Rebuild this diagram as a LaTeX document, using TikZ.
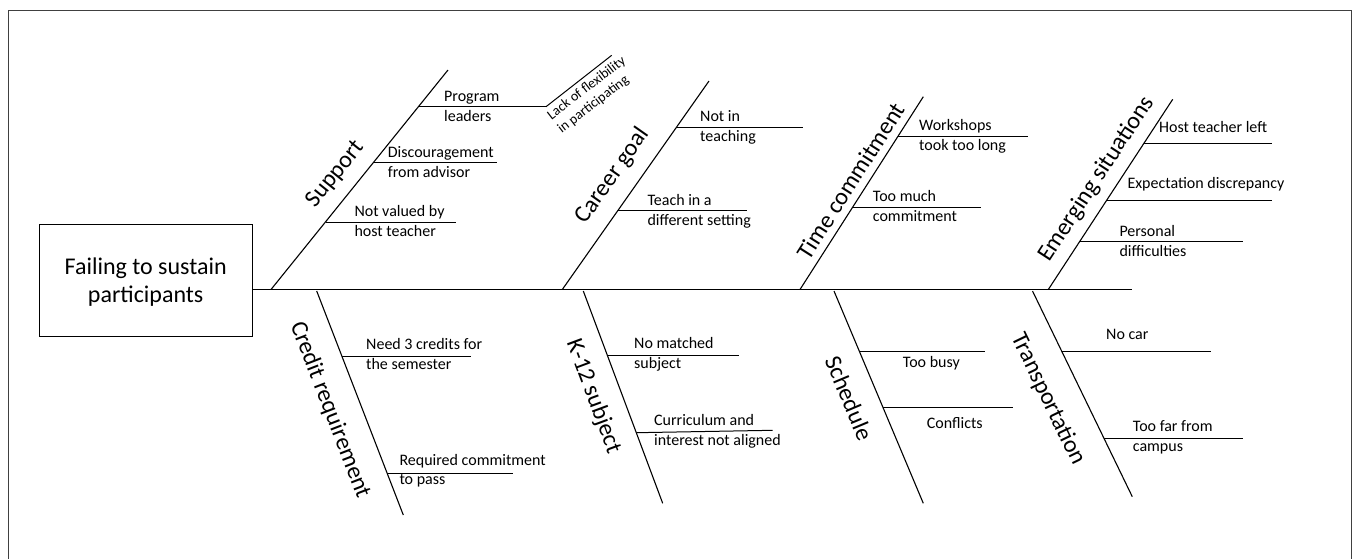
\documentclass[tikz,border=0pt]{standalone}
\usepackage{fontspec}
\setmainfont{Carlito}
\usetikzlibrary{calc}
% two stacked lines, anchored at the baseline of the first one
\newcommand{\pairlines}[3][20pt]{\vtop{\baselineskip=#1\hbox{#2}\hbox{#3}}}
% two centred lines, anchored at the baseline of the first one
\newcommand{\centerpair}[2]{\vtop{\baselineskip=28.5pt\halign{\hfil##\hfil\cr#1\cr#2\cr}}}
\tikzset{
  bone/.style={line width=1.1pt},
  twig/.style={line width=1pt},
  cause/.style={font=\fontsize{24}{29}\selectfont, inner sep=0pt},
  leaf/.style={font=\fontsize{16}{20}\selectfont, inner sep=0pt, anchor=base west},
  frame/.style={line width=1pt, draw=black!75},
}
\begin{document}
\begin{tikzpicture}[x=1pt,y=-1pt]
\useasboundingbox (0,0) rectangle (1353,558);
% outer frame
\coordinate (fa) at (8,570);
\coordinate (fb) at (8,10);
\coordinate (fc) at (1351.5,10);
\coordinate (fd) at (1351.5,570);
\draw[frame] (fa) -- (fb) -- (fc) -- (fd);

% head and spine
\node[draw, line width=1pt, minimum width=213.3pt, minimum height=112pt, inner sep=0pt]
      (head) at (145.7,280) {};
\node[font=\fontsize{24}{28.5}\selectfont, inner sep=0pt, anchor=base] (headtext)
      at (145.7,274) {\centerpair{Failing to sustain}{participants}};
\coordinate (tail) at (1131.7,289.5);
\draw[bone] (head.east |- tail) -- (tail);

% ---- Support
\coordinate (s0) at (271,289.5);
\coordinate (s1) at (448,70);
\draw[bone] (s0) -- (s1);
\node[cause, rotate=51.2] (lsup) at (335.8,174.2) {Support};
\coordinate (sa1) at (418.5,106.7); \coordinate (sa2) at (546,106.7);
\draw[twig] (sa1) -- (sa2);
\node[leaf] (tsa) at (444,101.2) {\pairlines{Program}{leaders}};
\coordinate (sa3) at (611.7,55.3);
\draw[twig] (sa2) -- (sa3);
\node[leaf, font=\fontsize{14}{17}\selectfont, rotate=37.6] (tsa3) at (551.4,120.2)
      {\pairlines[17pt]{Lack of flexibility}{in participating}};
\coordinate (sb1) at (373.4,162.7); \coordinate (sb2) at (496.7,162.7);
\draw[twig] (sb1) -- (sb2);
\node[leaf] (tsb) at (387.7,157.2) {\pairlines{Discouragement}{from advisor}};
\coordinate (sc1) at (325.5,222.3); \coordinate (sc2) at (455.7,222.3);
\draw[twig] (sc1) -- (sc2);
\node[leaf] (tsc) at (354.3,216.8) {\pairlines{Not valued by}{host teacher}};

% ---- Career goal
\coordinate (c0) at (562.3,289.5);
\coordinate (c1) at (709,81);
\draw[bone] (c0) -- (c1);
\node[cause, rotate=54.9] (lcar) at (612.5,175.8) {Career goal};
\coordinate (ca1) at (676.9,127); \coordinate (ca2) at (803.3,127);
\draw[twig] (ca1) -- (ca2);
\node[leaf] (tca) at (700,121.5) {\pairlines{Not in}{teaching}};
\coordinate (cb1) at (618.1,210.7); \coordinate (cb2) at (746.7,210.7);
\draw[twig] (cb1) -- (cb2);
\node[leaf] (tcb) at (647.3,205.2) {\pairlines{Teach in a}{different setting}};

% ---- Time commitment
\coordinate (t0) at (800,289.5);
\coordinate (t1) at (923.3,96.7);
\draw[bone] (t0) -- (t1);
\node[cause, rotate=57.5] (ltim) at (851,181) {Time commitment};
\coordinate (ta1) at (898.3,136); \coordinate (ta2) at (1028.3,136);
\draw[twig] (ta1) -- (ta2);
\node[leaf] (tta) at (919,130.5) {\pairlines{Workshops}{took too long}};
\coordinate (tb1) at (852.8,207.3); \coordinate (tb2) at (980.7,207.3);
\draw[twig] (tb1) -- (tb2);
\node[leaf] (ttb) at (872.7,201.8) {\pairlines{Too much}{commitment}};

% ---- Emerging situations
\coordinate (e0) at (1048.3,289.5);
\coordinate (e1) at (1172.7,99.3);
\draw[bone] (e0) -- (e1);
\node[cause, rotate=56.9] (lemg) at (1096.7,179.2) {Emerging situations};
\coordinate (ea1) at (1143.7,143.7); \coordinate (ea2) at (1271.7,143.7);
\draw[twig] (ea1) -- (ea2);
\node[leaf] (tea) at (1159,132.5) {Host teacher left};
\coordinate (eb1) at (1107,200); \coordinate (eb2) at (1271.7,200);
\draw[twig] (eb1) -- (eb2);
\node[leaf] (teb) at (1127.3,188.5) {Expectation discrepancy};
\coordinate (ec1) at (1079.8,241.7); \coordinate (ec2) at (1242.7,241.7);
\draw[twig] (ec1) -- (ec2);
\node[leaf] (tec) at (1119.3,236.2) {\pairlines{Personal}{difficulties}};

% ---- Credit requirement
\coordinate (r0) at (316.7,291);
\coordinate (r1) at (403.3,515);
\draw[bone] (r0) -- (r1);
\node[cause, rotate=-68.8] (lcre) at (330,410) {Credit requirement};
\coordinate (ra1) at (342,356); \coordinate (ra2) at (470.7,356);
\draw[twig] (ra1) -- (ra2);
\node[leaf] (tra) at (366,349.5) {\pairlines{Need 3 credits for}{the semester}};
\coordinate (rb1) at (387.3,473.3); \coordinate (rb2) at (513.3,473.3);
\draw[twig] (rb1) -- (rb2);
\node[leaf] (trb) at (399.3,465.8) {\pairlines[18.5pt]{Required commitment}{to pass}};

% ---- K-12 subject
\coordinate (k0) at (583.3,291);
\coordinate (k1) at (662.7,503.3);
\draw[bone] (k0) -- (k1);
\node[cause, rotate=-69.6] (lk12) at (593.3,396.7) {K-12 subject};
\coordinate (ka1) at (607.8,355.7); \coordinate (ka2) at (739.3,355.7);
\draw[twig] (ka1) -- (ka2);
\node[leaf] (tka) at (634,348.5) {\pairlines{No matched}{subject}};
\coordinate (kb1) at (636.4,432.7); \coordinate (kb2) at (772.7,430.3);
\draw[twig] (kb1) -- (kb2);
\node[leaf] (tkb) at (654,425) {\pairlines{Curriculum and}{interest not aligned}};

% ---- Schedule
\coordinate (h0) at (834,291);
\coordinate (h1) at (923.3,503.3);
\draw[bone] (h0) -- (h1);
\node[cause, rotate=-67.2] (lsch) at (849.2,398.3) {Schedule};
\coordinate (ha1) at (859.7,351.5); \coordinate (ha2) at (985,351.5);
\draw[twig] (ha1) -- (ha2);
\node[leaf] (tha) at (902.7,367.5) {Too busy};
\coordinate (hb1) at (883,407.3); \coordinate (hb2) at (1013.3,407.3);
\draw[twig] (hb1) -- (hb2);
\node[leaf] (thb) at (926.7,428.5) {Conflicts};

% ---- Transportation
\coordinate (p0) at (1032.5,291);
\coordinate (p1) at (1132.3,496.7);
\draw[bone] (p0) -- (p1);
\node[cause, rotate=-64.2] (ltra) at (1048.3,399.2) {Transportation};
\coordinate (pa1) at (1062,351); \coordinate (pa2) at (1210.7,351);
\draw[twig] (pa1) -- (pa2);
\node[leaf] (tpa) at (1106,339) {No car};
\coordinate (pb1) at (1104.1,438.3); \coordinate (pb2) at (1242.7,438.3);
\draw[twig] (pb1) -- (pb2);
\node[leaf] (tpb) at (1132.7,431.7) {\pairlines{Too far from}{campus}};
\end{tikzpicture}
\end{document}
